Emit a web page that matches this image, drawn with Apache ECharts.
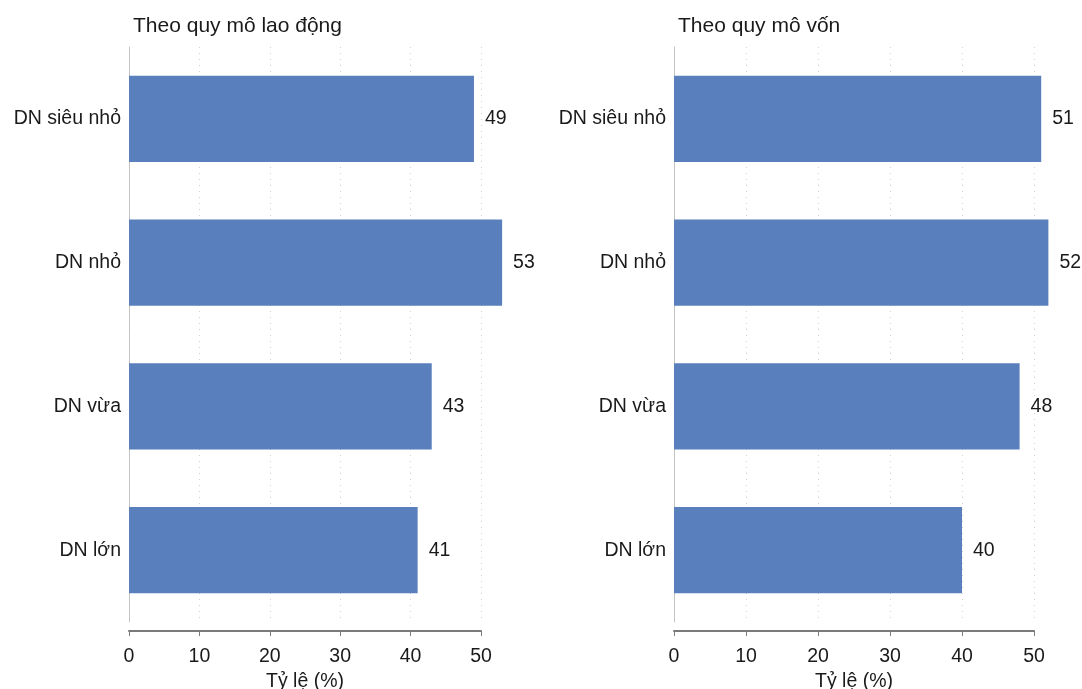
<!DOCTYPE html>
<html>
<head>
<meta charset="utf-8">
<style>
  html, body { margin: 0; padding: 0; background: #ffffff; }
  #chart { width: 1082px; height: 689px; }
</style>
<script src="https://cdn.jsdelivr.net/npm/echarts@6/dist/echarts.min.js"></script>
</head>
<body>
<div id="chart"></div>
<script>
// Firm size categories, top to bottom
const categories = ['DN siêu nhỏ', 'DN nhỏ', 'DN vừa', 'DN lớn'];
// Share (%) by labour size and by capital size
const laborValues = [49, 53, 43, 41];
const capitalValues = [51, 52, 48, 40];
const panelTitles = ['Theo quy mô lao động', 'Theo quy mô vốn'];
const axisTitle = 'Tỷ lệ (%)';
const xTicks = [0, 10, 20, 30, 40, 50];

const FONT = '"Liberation Sans", Arial, sans-serif';
const TEXT = '#1a1a1a';
const BAR = '#5a7fbd';
const FS = 19.5;

const grids = [
  { left: 129, width: 352, top: 47, height: 575, outerBoundsMode: 'none', containLabel: false },
  { left: 674, width: 360, top: 47, height: 575, outerBoundsMode: 'none', containLabel: false }
];

function xAxisFor(i) {
  return {
    type: 'value', gridIndex: i,
    min: xTicks[0], max: xTicks[xTicks.length - 1], interval: 10,
    offset: 9,
    name: axisTitle, nameLocation: 'middle', nameGap: 39,
    nameTextStyle: { fontFamily: FONT, fontSize: FS, color: TEXT },
    axisLine: { show: true, lineStyle: { color: '#7a7a7a', width: 2 } },
    axisTick: { show: true, length: 5, lineStyle: { color: '#7a7a7a', width: 1 } },
    axisLabel: { fontFamily: FONT, fontSize: FS, color: TEXT, margin: 16 },
    splitLine: { show: true, lineStyle: { color: '#d0d0d0', type: [1, 5], width: 1 } }
  };
}

function yAxisFor(i) {
  return {
    type: 'category', gridIndex: i, data: categories, inverse: true,
    axisLine: { show: true, lineStyle: { color: '#c4c4c4', width: 1 } },
    axisTick: { show: false },
    axisLabel: { fontFamily: FONT, fontSize: FS, color: TEXT, margin: 8 }
  };
}

function barSeries(i, values) {
  return {
    type: 'bar', xAxisIndex: i, yAxisIndex: i, data: values,
    clip: false,
    barCategoryGap: '40%',
    itemStyle: { color: BAR },
    label: {
      show: true, position: 'right', distance: 11,
      fontFamily: FONT, fontSize: FS, color: TEXT
    }
  };
}

const chart = echarts.init(document.getElementById('chart'), null, { renderer: 'canvas' });
chart.setOption({
  backgroundColor: '#ffffff',
  animation: false,
  title: [
    { text: panelTitles[0], left: 133, top: 16, padding: 0,
      textStyle: { fontFamily: FONT, fontSize: 21, fontWeight: 'normal', color: TEXT } },
    { text: panelTitles[1], left: 678, top: 16, padding: 0,
      textStyle: { fontFamily: FONT, fontSize: 21, fontWeight: 'normal', color: TEXT } }
  ],
  grid: grids,
  xAxis: [xAxisFor(0), xAxisFor(1)],
  yAxis: [yAxisFor(0), yAxisFor(1)],
  series: [barSeries(0, laborValues), barSeries(1, capitalValues)]
});
</script>
</body>
</html>
